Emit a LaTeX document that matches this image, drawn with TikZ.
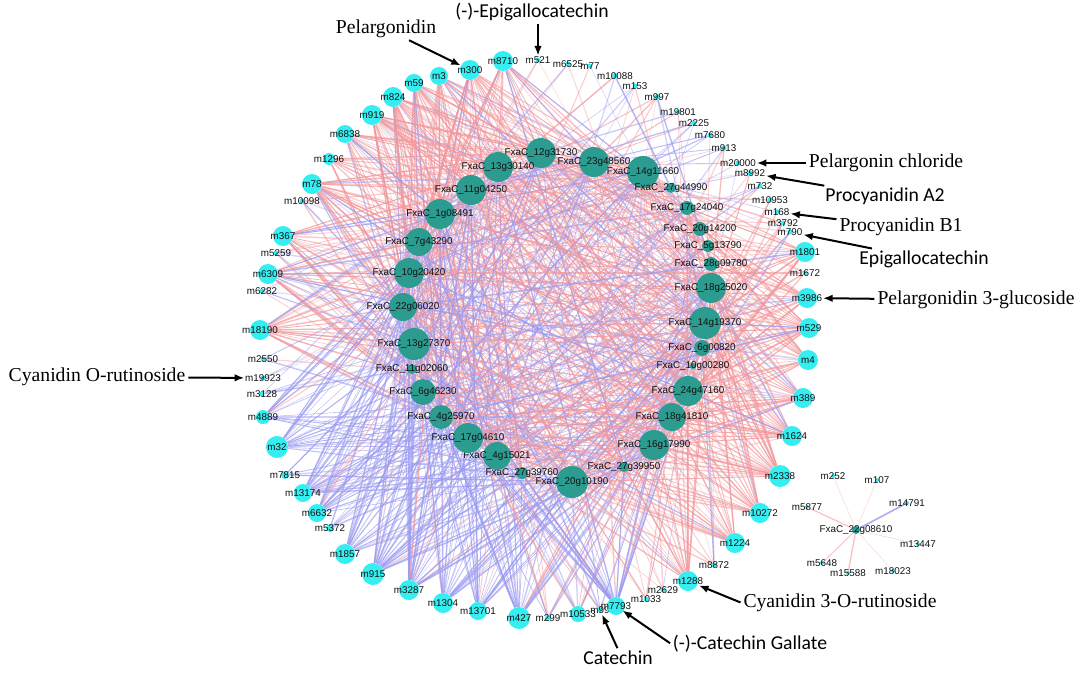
\documentclass[tikz,border=0pt]{standalone}
\usepackage{fontspec}
\setmainfont{Liberation Serif}
\newfontfamily\labelsans{Liberation Sans}
\newfontfamily\notesans{Carlito}
\usepackage{tikz}
\usetikzlibrary{arrows.meta,backgrounds}
\definecolor{metcyan}{HTML}{35EEF2}
\definecolor{geneteal}{HTML}{2C9C91}
\definecolor{posedge}{HTML}{F3979B}
\definecolor{negedge}{HTML}{9A9AF2}
\definecolor{ink}{HTML}{111111}
\tikzset{
  >=Latex,
  met/.style={circle,fill=metcyan,inner sep=0pt,minimum size=#1*0.5mm},
  gene/.style={circle,fill=geneteal,inner sep=0pt,minimum size=#1*0.5mm},
  nodelabel/.style={font=\labelsans\fontsize{7}{8}\selectfont,text=ink,inner sep=0.5pt},
  callserif/.style={font=\fontsize{14}{16}\selectfont,text=black,inner sep=1pt},
  callsans/.style={font=\notesans\fontsize{14}{16}\selectfont,text=black,inner sep=1pt},
  pointer/.style={-{Latex[length=2.4mm,width=1.9mm]},line width=0.5mm,draw=black,shorten <=1pt}
}
% gene id / x / y / radius (px)
\def\genelist{12g31730/541/153/15, 13g30140/498/167/15, 23g48560/594/162/15,
  14g11660/643/172/16, 27g44990/671/188/5, 17g24040/687/208/7, 20g14200/700/229/7,
  5g13790/708/246/6, 28g09780/711/264/7, 18g25020/711/288/15, 14g19370/705/323/16,
  6g00820/702/348/8, 10g00280/693/366/3, 24g47160/688/391/15, 18g41810/672/417/14,
  16g17990/654/445/15, 27g39950/624/467/5, 20g10190/572/482/16, 27g39760/522/473/6,
  4g15021/497/456/14, 17g04610/468/438/15, 4g25970/441/417/12, 6g46230/423/392/13,
  11g02060/412/369/5, 13g27370/414/344/16, 22g06020/403/307/14, 10g20420/409/273/15,
  7g43290/419/242/14, 1g08491/440/214/15, 11g04250/471/190/15}
% metabolite / x / y / radius / share of positive links / link density
\def\metlist{m521/538/60/2.5/.8/.15, m8710/503/61/10/.85/.55, m300/470/70/10/.9/.55,
  m3/439/76/9/.8/.5, m59/414/83/9/.85/.5, m824/393/97/10/.85/.55, m919/372/115/10/.8/.55,
  m6838/345/134/9/.85/.5, m1296/329/159/6/.7/.3, m78/312/184/10/.85/.55,
  m10098/302/201/2.5/.6/.12, m367/283/236/10/.8/.55, m5259/276/253/2.5/.5/.12,
  m6309/268/274/10/.8/.55, m6282/262/291/2.5/.5/.12, m18190/260/330/10/.85/.55,
  m2550/263/359/2.5/.3/.12, m19923/263/378/2.5/.2/.12, m3128/262/394/2.5/.2/.12,
  m4889/263/417/7/.1/.35, m32/277/447/11/.05/.6, m7815/285/475/4/.1/.2,
  m13174/303/493/9/.05/.5, m6632/317/513/9/.05/.5, m5372/330/528/4/.1/.2,
  m1857/345/554/10/.05/.55, m915/373/574/11/.05/.6, m3287/409/590/10/.1/.55,
  m1304/443/603/10/.15/.55, m13701/478/611/9/.1/.5, m427/519/618/11/.1/.6,
  m299/548/618/3/.2/.15, m10533/578/614/8/.15/.4, m99/600/610/2.5/.2/.15,
  m7793/616/606/9/.1/.6, m1033/646/599/2.5/.6/.15, m2629/663/590/2.5/.7/.15,
  m1288/688/581/10/.95/.55, m8872/714/565/2.5/.8/.15, m1224/735/543/10/.95/.55,
  m10272/760/513/10/.95/.55, m2338/780/476/11/.95/.6, m1624/792/436/10/.9/.55,
  m389/803/398/10/.9/.55, m4/808/360/10/.9/.55, m529/809/328/10/.9/.55,
  m3986/807/298/10/.9/.55, m1672/805/273/2.5/.8/.15, m1801/805/252/10/.9/.55,
  m790/790/232/2.5/.7/.15, m3792/783/223/2.5/.6/.12, m168/777/212/2.5/.6/.12,
  m10953/770/200/2.5/.5/.12, m732/760/186/2.5/.6/.12, m8992/750/173/2.5/.6/.12,
  m20000/738/163/2.5/.6/.12, m913/724/148/2.5/.5/.12, m7680/710/135/2.5/.5/.12,
  m2225/694/123/2.5/.6/.12, m19801/678/112/2.5/.7/.12, m997/657/97/3/.7/.15,
  m153/635/86/2.5/.5/.12, m10088/615/76/3/.6/.12, m77/590/66/2.5/.5/.12,
  m6525/568/64/2.5/.5/.12}
\begin{document}
\begin{tikzpicture}[x=0.25mm,y=-0.25mm]
  \useasboundingbox (0,0) rectangle (1084,672);

  \foreach \g/\gx/\gy/\grad in \genelist
    \node[gene=\grad,label={[nodelabel]center:FxaC\_\g}] (g\g) at (\gx,\gy) {};
  \foreach \m/\x/\y/\rad/\bias/\dprob in \metlist
    \node[met=\rad,label={[nodelabel,name=lb\m]center:\m}] (\m) at (\x,\y) {};

  % separate small module
  \node[gene=4,label={[nodelabel]center:FxaC\_22g08610}] (g22g08610) at (856,530) {};
  \foreach \m/\x/\y in {m252/833/476, m107/877/480, m14791/907/503, m5877/807/507,
    m13447/918/544, m18023/893/571, m15588/848/573, m5648/822/563}
    \node[met=2,label={[nodelabel]center:\m}] (\m) at (\x,\y) {};

  \begin{scope}[on background layer]
    \fill[white] (0,0) rectangle (1084,672);
    \pgfmathsetseed{4211}
    \foreach \m/\x/\y/\rad/\bias/\dprob in \metlist {
      \foreach \g/\gx/\gy/\grad in \genelist {
        \pgfmathsetmacro\thr{min(0.95,\dprob*\grad/9)}
        \pgfmathsetmacro\pick{rnd}
        \pgfmathsetmacro\tone{rnd}
        \pgfmathsetmacro\lw{0.3+0.8*rnd}
        \pgfmathsetmacro\op{(0.4+0.45*rnd)*min(1,\rad/6+0.4)}
        \ifdim\pick pt<\thr pt
          \ifdim\tone pt<\bias pt \def\ec{posedge}\else\def\ec{negedge}\fi
          \draw[\ec,line width=\lw pt,opacity=\op] (\m) -- (g\g);
        \fi
      }
    }
    \draw[posedge,line width=0.5pt,opacity=0.3] (g22g08610) -- (m252);
    \draw[posedge,line width=0.5pt,opacity=0.3] (g22g08610) -- (m107);
    \draw[negedge,line width=1.2pt,opacity=0.8] (g22g08610) -- (m14791);
    \draw[posedge,line width=0.8pt,opacity=0.6] (g22g08610) -- (m5877);
    \draw[gray,line width=0.4pt,opacity=0.25] (g22g08610) -- (m13447);
    \draw[posedge,line width=0.5pt,opacity=0.3] (g22g08610) -- (m18023);
    \draw[posedge,line width=0.9pt,opacity=0.6] (g22g08610) -- (m15588);
    \draw[posedge,line width=0.8pt,opacity=0.5] (g22g08610) -- (m5648);
  \end{scope}

  \node[callserif] (pelargonidin) at (386,29) {Pelargonidin};
  \node[callsans] (egcminus) at (532,12) {(-)-Epigallocatechin};
  \node[callserif] (pelchloride) at (886,163) {Pelargonin chloride};
  \node[callsans] (procA2) at (885,196) {Procyanidin A2};
  \node[callserif] (procB1) at (901,227) {Procyanidin B1};
  \node[callsans] (egc) at (924,259) {Epigallocatechin};
  \node[callserif] (pel3glc) at (976,300) {Pelargonidin 3-glucoside};
  \node[callserif] (cyaOrut) at (97,377) {Cyanidin O-rutinoside};
  \node[callserif] (cya3Orut) at (840,603) {Cyanidin 3-O-rutinoside};
  \node[callsans] (catgall) at (750,644) {(-)-Catechin Gallate};
  \node[callsans] (catechin) at (618,658) {Catechin};

  \draw[pointer] (pelargonidin) -- (lbm300);
  \draw[pointer] (egcminus.south -| lbm521.north) -- (lbm521.north);
  \draw[pointer] (pelchloride) -- (lbm20000);
  \draw[pointer] (procA2) -- (lbm8992);
  \draw[pointer] (procB1) -- (lbm168);
  \draw[pointer] (egc) -- (lbm790);
  \draw[pointer] (pel3glc) -- (lbm3986);
  \draw[pointer] (cyaOrut) -- (lbm19923);
  \draw[pointer] (cya3Orut.west) -- (lbm1288);
  \draw[pointer] (catgall.west) -- (lbm7793);
  \draw[pointer] (catechin.north) -- (lbm99);
\end{tikzpicture}
\end{document}
